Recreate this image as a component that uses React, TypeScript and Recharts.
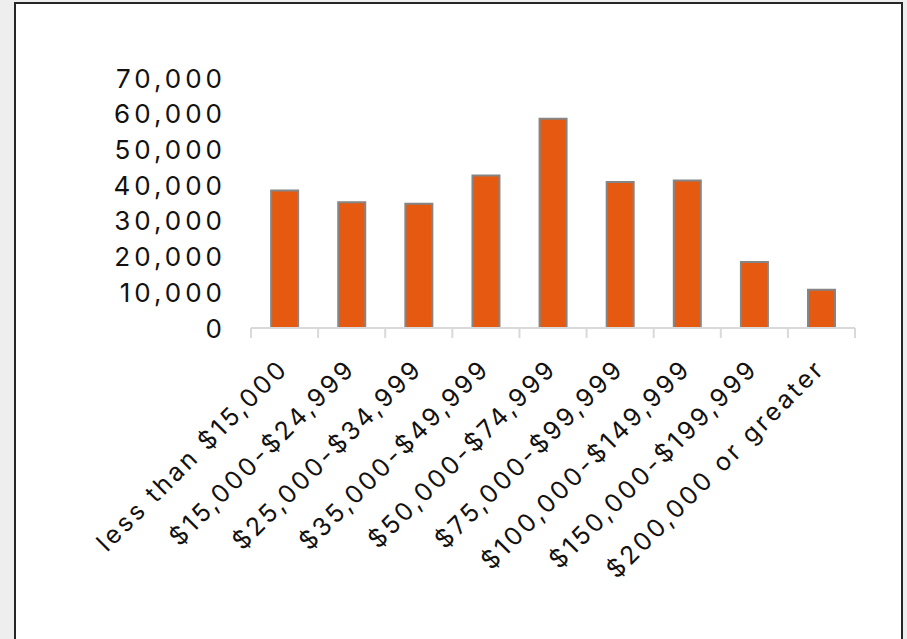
import React from "react";
import { BarChart, Bar, XAxis, YAxis } from "recharts";

const categories = [
  "less than $15,000",
  "$15,000-$24,999",
  "$25,000-$34,999",
  "$35,000-$49,999",
  "$50,000-$74,999",
  "$75,000-$99,999",
  "$100,000-$149,999",
  "$150,000-$199,999",
  "$200,000 or greater",
];
const households = [38500, 35200, 34800, 42700, 58600, 40900, 41300, 18500, 10700];
const yTicks = [0, 10000, 20000, 30000, 40000, 50000, 60000, 70000];

const data = categories.map((c, i) => ({ name: c, value: households[i] }));

const FONT = "Inter, 'Noto Sans', sans-serif";
const Y_FS = 26;
const Y_LS = 4;
const X_FS = 25;
const X_LS = 3;

const fmt = (v: number) => v.toLocaleString("en-US");

const YTick = (props: any) => {
  const { x, y, payload } = props;
  return (
    <text
      x={x + Y_LS}
      y={y}
      textAnchor="end"
      dominantBaseline="central"
      fontFamily={FONT}
      fontSize={Y_FS}
      letterSpacing={Y_LS}
      fill="#111"
    >
      {fmt(payload.value)}
    </text>
  );
};

const XTick = (props: any) => {
  const { x, y, payload, index, visibleTicksCount } = props;
  const half = payload && payload.offset ? payload.offset : 0;
  const ax = x + 3 + X_LS * 0.707;
  const ay = y + 44 - X_LS * 0.707;
  const last = visibleTicksCount ? index === visibleTicksCount - 1 : index === categories.length - 1;
  return (
    <g>
      <line x1={x - half} x2={x - half} y1={y} y2={y + 10} stroke="#d9d9d9" strokeWidth={2} />
      {last && <line x1={x + half} x2={x + half} y1={y} y2={y + 10} stroke="#d9d9d9" strokeWidth={2} />}
      <text
        x={ax}
        y={ay}
        textAnchor="end"
        transform={`rotate(-45 ${ax} ${ay})`}
        fontFamily={FONT}
        fontSize={X_FS}
        letterSpacing={X_LS}
        fill="#111"
      >
        {payload.value}
      </text>
    </g>
  );
};

export default function App() {
  return (
    <div style={{ position: "absolute", left: 0, top: 0, width: 907, height: 639, background: "#eeeeee", overflow: "hidden" }}>
      <div
        style={{
          position: "absolute",
          left: 14,
          top: 2,
          width: 889,
          height: 660,
          background: "#ffffff",
          border: "2px solid #262626",
          boxSizing: "border-box",
        }}
      />
      <div style={{ position: "absolute", left: 0, top: 0 }}>
        <BarChart
          width={907}
          height={639}
          data={data}
          margin={{ top: 78, right: 52, left: 151, bottom: 111 }}
          barCategoryGap="30%"
        >
          <XAxis
            dataKey="name"
            type="category"
            interval={0}
            height={200}
            axisLine={{ stroke: "#d9d9d9", strokeWidth: 2 }}
            tickLine={false}
            tickSize={0}
            tickMargin={0}
            tick={<XTick />}
          />
          <YAxis
            type="number"
            domain={[0, 70000]}
            ticks={yTicks}
            width={100}
            axisLine={false}
            tickLine={false}
            tickSize={0}
            tickMargin={29}
            tick={<YTick />}
          />
          <Bar dataKey="value" fill="#E55A10" stroke="#858585" strokeWidth={2} isAnimationActive={false} />
        </BarChart>
      </div>
    </div>
  );
}
